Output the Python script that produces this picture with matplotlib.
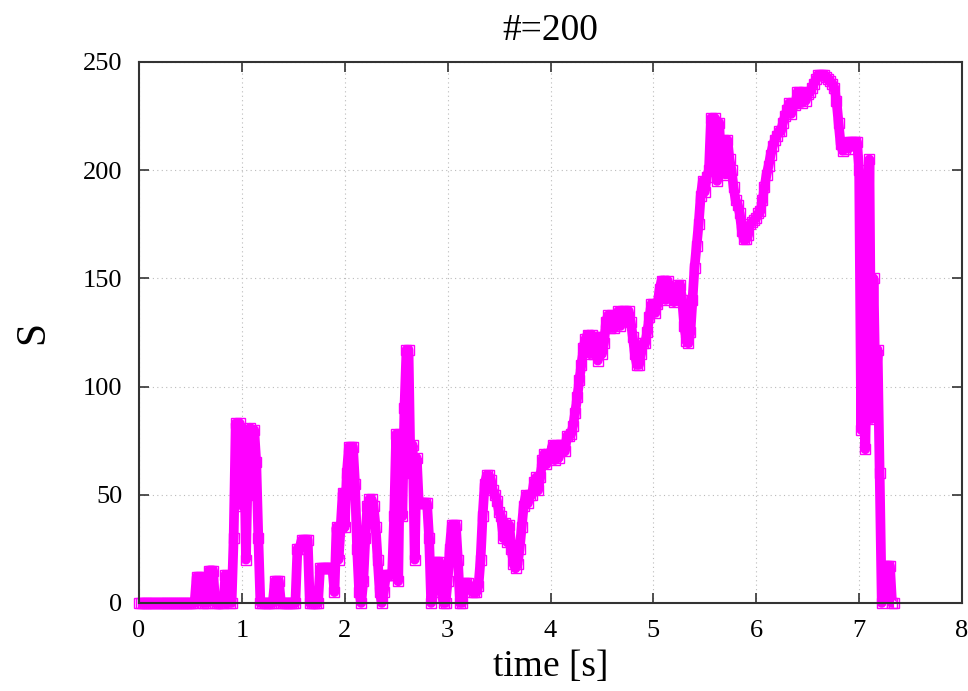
import numpy as np
import matplotlib
matplotlib.use("Agg")
import matplotlib.pyplot as plt

DT = 0.02
S = [
    # 0.0 - 0.5
    0, 0, 0, 0, 0,   0, 0, 0, 0, 0,   0, 0, 0, 0, 0,   0, 0, 0, 0, 0,   0, 0, 0, 0, 0,
    # 0.5 - 1.0
    0, 0, 0, 12, 12,   12, 0, 0, 0, 15,   15, 15, 0, 0, 0,   0, 0, 13, 13, 0,   0, 30, 83, 60, 83,
    # 1.0 - 1.5
    45, 78, 20, 70, 81,   50, 80, 65, 30, 0,   0, 0, 0, 0, 0,   0, 10, 10, 10, 0,   0, 0, 0, 0, 0,
    # 1.5 - 2.0
    0, 0, 25, 25, 29,   29, 29, 29, 0, 0,   0, 0, 0, 16, 16,   16, 16, 16, 16, 16,   5, 35, 20, 35, 51,
    # 2.0 - 2.5
    35, 60, 72, 72, 72,   55, 25, 5, 0, 10,   30, 45, 48, 48, 45,   35, 20, 5, 0, 5,   13, 13, 13, 13, 40,
    # 2.5 - 3.0
    78, 10, 78, 40, 90,   117, 117, 60, 73, 20,   67, 46, 46, 46, 46,   46, 30, 0, 10, 19,   19, 19, 5, 0, 0,
    # 3.0 - 3.5
    10, 25, 36, 36, 36,   20, 0, 0, 9, 9,   9, 7, 5, 5, 5,   8, 20, 40, 55, 59,   59, 57, 52, 50, 47,
    # 3.5 - 4.0
    42, 40, 30, 37, 28,   36, 25, 18, 16, 18,   25, 35, 45, 50, 46,   50, 50, 56, 58, 52,   58, 66, 69, 64, 69,
    # 4.0 - 4.5
    69, 73, 66, 73, 67,   73, 73, 70, 77, 77,   78, 82, 88, 95, 103,   110, 118, 122, 124, 115,   124, 115, 123, 112, 123,
    # 4.5 - 5.0
    115, 120, 130, 133, 127,   133, 127, 131, 135, 128,   135, 135, 132, 135, 130,   123, 115, 110, 110, 115,   120, 120, 125, 132, 138,
    # 5.0 - 5.5
    138, 134, 138, 145, 149,   149, 140, 149, 142, 144,   139, 144, 147, 147, 140,   128, 121, 120, 125, 140,   155, 165, 175, 188, 195,
    # 5.5 - 6.0
    190, 197, 200, 224, 210,   224, 195, 222, 200, 214,   198, 214, 205, 200, 192,   186, 184, 180, 172, 168,   168, 170, 175, 176, 177,
    # 6.0 - 6.5
    178, 180, 181, 186, 192,   198, 202, 207, 211, 214,   216, 218, 218, 222, 225,   228, 231, 226, 231, 230,   236, 236, 231, 236, 232,
    # 6.5 - 7.0
    235, 236, 238, 240, 242,   244, 244, 244, 244, 243,   242, 241, 240, 238, 232,   222, 212, 209, 210, 213,   210, 213, 213, 213, 213,
    # 7.0 - 7.34
    200, 80, 150, 71, 120,   205, 85, 150, 95, 117,   60, 0, 17, 17, 17,   17, 0, 0,
]

xticks = [0, 1, 2, 3, 4, 5, 6, 7, 8]
yticks = [0, 50, 100, 150, 200, 250]

time = np.arange(len(S)) * DT

plt.rcParams["font.family"] = ["Liberation Serif", "DejaVu Serif"]

fig = plt.figure(figsize=(9.68, 6.91), dpi=100)
ax = fig.add_axes([0.1436, 0.1274, 0.8502, 0.7829])

# dense band of points: thick line underneath, open squares on top
ax.plot(time, S, color="#ff00ff", linewidth=7.0, solid_joinstyle="round",
        solid_capstyle="butt", clip_on=False, zorder=3)
ax.plot(time, S, linestyle="none", marker="s", markersize=7.5,
        markerfacecolor="none", markeredgecolor="#ff00ff", markeredgewidth=1.0,
        clip_on=False, zorder=4)

ax.set_xlim(0, 8)
ax.set_ylim(0, 250)
ax.set_xticks(xticks)
ax.set_yticks(yticks)
ax.tick_params(direction="in", length=7, width=1.2, top=True, right=True,
               labelsize=19, color="#333333")
ax.tick_params(axis="x", pad=12)
ax.tick_params(axis="y", pad=12)
ax.grid(True, linestyle=(0, (1, 3)), color="#bbbbbb", linewidth=0.8)
for sp in ax.spines.values():
    sp.set_linewidth(1.5)
    sp.set_color("#333333")
    sp.set_zorder(5)

ax.set_title("#=200", fontsize=27, pad=16)
ax.set_xlabel("time [s]", fontsize=27, labelpad=6)
ax.set_ylabel("S", fontsize=30, labelpad=22)

fig.savefig("out.png", dpi=100)
